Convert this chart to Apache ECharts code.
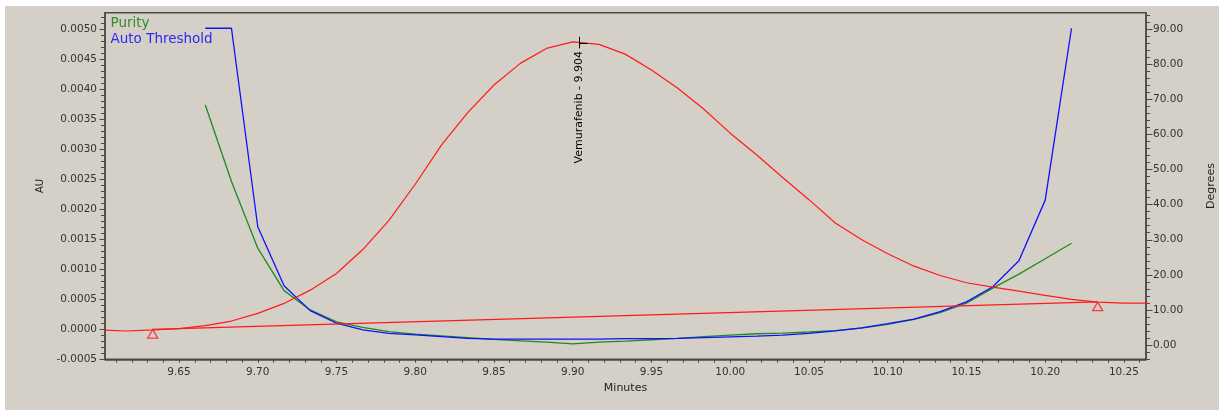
<!DOCTYPE html>
<html>
<head>
<meta charset="utf-8">
<script src="https://cdn.jsdelivr.net/npm/echarts@6/dist/echarts.min.js"></script>
<style>
  html, body { margin: 0; padding: 0; background: #ffffff; }
  #chart { position: absolute; left: 5px; top: 6px; width: 1214px; height: 404px; }
</style>
</head>
<body>
<div id="chart"></div>
<script>
// Chromatogram (AU) sampled once per second
const chromTimes = [
  9.6000, 9.6167, 9.6333, 9.6500, 9.6667, 9.6833, 9.7000, 9.7167, 9.7333, 9.7500,
  9.7667, 9.7833, 9.8000, 9.8167, 9.8333, 9.8500, 9.8667, 9.8833, 9.9000, 9.9167,
  9.9333, 9.9500, 9.9667, 9.9833, 10.0000, 10.0167, 10.0333, 10.0500, 10.0667, 10.0833,
  10.1000, 10.1167, 10.1333, 10.1500, 10.1667, 10.1833, 10.2000, 10.2167, 10.2333, 10.2500,
  10.2667
];
const chromAU = [
  -0.000010, -0.000028, -0.000010, 0.000013, 0.000062, 0.000138, 0.000266, 0.000432, 0.000653, 0.000931,
  0.001330, 0.001817, 0.002419, 0.003076, 0.003613, 0.004074, 0.004435, 0.004684, 0.004794, 0.004751,
  0.004589, 0.004323, 0.004019, 0.003670, 0.003271, 0.002910, 0.002532, 0.002162, 0.001774, 0.001497,
  0.001259, 0.001053, 0.000898, 0.000777, 0.000703, 0.000637, 0.000565, 0.000499, 0.000454, 0.000437,
  0.000437
];

// Purity angle and threshold (degrees)
const purityTimes = [
  9.6667, 9.6833, 9.7000, 9.7167, 9.7333, 9.7500, 9.7667, 9.7833, 9.8000, 9.8167,
  9.8333, 9.8500, 9.8667, 9.8833, 9.9000, 9.9167, 9.9333, 9.9500, 9.9667, 9.9833,
  10.0000, 10.0167, 10.0333, 10.0500, 10.0667, 10.0833, 10.1000, 10.1167, 10.1333, 10.1500,
  10.1667, 10.1833, 10.2000, 10.2167
];
const purityAngle = [
  68.4, 46.6, 27.6, 15.5, 10.0, 6.6, 5.0, 3.8, 3.1, 2.6,
  2.1, 1.6, 1.2, 0.8, 0.3, 0.8, 1.1, 1.5, 1.9, 2.4,
  2.8, 3.2, 3.4, 3.7, 4.1, 4.8, 5.9, 7.3, 9.2, 11.9,
  16.2, 20.2, 24.6, 29.0
];
const thresholdAngle = [
  90.3, 90.3, 33.7, 16.9, 9.8, 6.2, 4.3, 3.3, 2.9, 2.4,
  1.9, 1.7, 1.7, 1.7, 1.7, 1.7, 1.8, 1.8, 1.9, 2.1,
  2.3, 2.5, 2.8, 3.3, 4.0, 4.85, 6.1, 7.4, 9.5, 12.3,
  16.6, 24.0, 41.3, 90.3
];

// Integration baseline (peak start / end)
const baselineTimes = [9.6333, 10.2333];
const baselineAU = [0.0000, 0.000456];

// Peak apex label
const peakName = 'Vemurafenib';
const peakRT = 9.904;
const apexTickTop = 0.00488;
const apexTickBottom = 0.004684;

// Axis ticks
const auTicks = [-0.0005, 0.0000, 0.0005, 0.0010, 0.0015, 0.0020, 0.0025, 0.0030, 0.0035, 0.0040, 0.0045, 0.0050];
const degTicks = [0, 10, 20, 30, 40, 50, 60, 70, 80, 90];
const minuteTicks = [9.65, 9.70, 9.75, 9.80, 9.85, 9.90, 9.95, 10.00, 10.05, 10.10, 10.15, 10.20, 10.25];

function steps(from, to, step, digits) {
  const out = [];
  const n = Math.round((to - from) / step);
  for (let i = 0; i <= n; i++) out.push(+(from + i * step).toFixed(digits));
  return out;
}
const auMinorTicks = steps(-0.0005, 0.0052, 0.0001, 4);
const degMinorTicks = steps(-4, 94, 2, 0);
const minuteMinorTicks = steps(9.61, 10.26, 0.01, 2);

const AU_MIN = -0.0005, AU_MAX = 0.00528;
const DEG_MIN = -4.08, DEG_MAX = 94.73;
const T_MIN = 9.603, T_MAX = 10.264;

const FONT = 'DejaVu Sans';
const AXIS_COLOR = '#4a4a4a';
const TEXT_COLOR = '#333333';
const RED = '#ff1a1a';
const GREEN = '#1f8a1f';
const BLUE = '#1010ff';

const zip = (xs, ys) => xs.map((x, i) => [x, ys[i]]);

const chart = echarts.init(document.getElementById('chart'), null, { renderer: 'canvas' });

const labelStyle = { fontFamily: FONT, fontSize: 10.5, color: TEXT_COLOR };

chart.setOption({
  animation: false,
  backgroundColor: '#d4d0c8',
  grid: {
    left: 100, top: 6.7, width: 1041, height: 346.6,
    show: true, borderColor: AXIS_COLOR, borderWidth: 1.5, backgroundColor: 'transparent',
    outerBoundsMode: 'none'
  },
  legend: {
    orient: 'vertical', left: 95.5, top: 5, itemGap: 2,
    icon: 'none', itemWidth: 0, itemHeight: 0, selectedMode: false,
    textStyle: { fontFamily: FONT, fontSize: 13.5 },
    data: [
      { name: 'Purity', textStyle: { color: '#2e8b2e' } },
      { name: 'Auto Threshold', textStyle: { color: '#2a2aee' } }
    ]
  },
  xAxis: [{
    type: 'value', min: T_MIN, max: T_MAX, position: 'bottom',
    name: 'Minutes', nameLocation: 'middle', nameGap: 22,
    nameTextStyle: { fontFamily: FONT, fontSize: 11, color: '#222' },
    axisLine: { onZero: false, lineStyle: { color: AXIS_COLOR, width: 1.5 } },
    axisTick: { customValues: minuteMinorTicks, length: 3.5, lineStyle: { color: AXIS_COLOR, width: 1 } },
    axisLabel: Object.assign({ customValues: minuteTicks, margin: 7, formatter: v => v.toFixed(2) }, labelStyle),
    splitLine: { show: false }
  }],
  yAxis: [{
    type: 'value', min: AU_MIN, max: AU_MAX, position: 'left',
    name: 'AU', nameLocation: 'middle', nameGap: 60, nameRotate: 90,
    nameTextStyle: { fontFamily: FONT, fontSize: 10, color: '#222' },
    axisLine: { show: true, onZero: false, lineStyle: { color: AXIS_COLOR, width: 1.5 } },
    axisTick: { customValues: auTicks, length: 5.5, lineStyle: { color: AXIS_COLOR, width: 1 } },
    axisLabel: Object.assign({ customValues: auTicks, margin: 8, formatter: v => v.toFixed(4) }, labelStyle),
    splitLine: { show: false }
  }, {
    type: 'value', min: DEG_MIN, max: DEG_MAX, position: 'right',
    name: 'Degrees', nameLocation: 'middle', nameGap: 60, nameRotate: 90,
    nameTextStyle: { fontFamily: FONT, fontSize: 11, color: '#222' },
    axisLine: { show: true, onZero: false, lineStyle: { color: AXIS_COLOR, width: 1.5 } },
    axisTick: { customValues: degTicks, length: 6.5, lineStyle: { color: AXIS_COLOR, width: 1 } },
    axisLabel: Object.assign({ customValues: degTicks, margin: 7, formatter: v => v.toFixed(2) }, labelStyle),
    splitLine: { show: false }
  }, {
    // minor ticks, AU axis
    type: 'value', min: AU_MIN, max: AU_MAX, position: 'left',
    axisLine: { show: false, onZero: false },
    axisTick: { show: true, customValues: auMinorTicks, length: 4, lineStyle: { color: AXIS_COLOR, width: 1 } },
    axisLabel: { show: false },
    splitLine: { show: false }
  }, {
    // minor ticks, degrees axis
    type: 'value', min: DEG_MIN, max: DEG_MAX, position: 'right',
    axisLine: { show: false, onZero: false },
    axisTick: { show: true, customValues: degMinorTicks, length: 4, lineStyle: { color: AXIS_COLOR, width: 1 } },
    axisLabel: { show: false },
    splitLine: { show: false }
  }],
  series: [{
    name: 'Purity', type: 'line', xAxisIndex: 0, yAxisIndex: 1,
    data: zip(purityTimes, purityAngle), showSymbol: false, symbol: 'none',
    lineStyle: { color: GREEN, width: 1.3 }, itemStyle: { color: GREEN }
  }, {
    name: 'Auto Threshold', type: 'line', xAxisIndex: 0, yAxisIndex: 1,
    data: zip(purityTimes, thresholdAngle), showSymbol: false, symbol: 'none',
    lineStyle: { color: BLUE, width: 1.3 }, itemStyle: { color: BLUE }
  }, {
    name: 'Baseline', type: 'line', xAxisIndex: 0, yAxisIndex: 0,
    data: zip(baselineTimes, baselineAU), showSymbol: false, symbol: 'none',
    lineStyle: { color: RED, width: 1.3 }
  }, {
    name: 'Chromatogram', type: 'line', xAxisIndex: 0, yAxisIndex: 0,
    data: zip(chromTimes, chromAU), showSymbol: false, symbol: 'none',
    lineStyle: { color: RED, width: 1.2 }
  }, {
    name: 'Peak markers', type: 'scatter', xAxisIndex: 0, yAxisIndex: 0,
    data: zip(baselineTimes, baselineAU),
    symbol: 'triangle', symbolSize: [10, 8.5], symbolOffset: [0, 4.5],
    itemStyle: { color: 'rgba(0,0,0,0)', borderColor: RED, borderWidth: 1.3 },
    silent: true, z: 4
  }, {
    name: 'Apex', type: 'custom', xAxisIndex: 0, yAxisIndex: 0, silent: true, z: 5,
    data: [[peakRT, apexTickTop, apexTickBottom]],
    renderItem: function (params, api) {
      const top = api.coord([api.value(0), api.value(1)]);
      const bot = api.coord([api.value(0), api.value(2)]);
      const x = Math.round(top[0]) + 0.5;
      const mid = Math.round((top[1] + bot[1]) / 2) + 0.5;
      return {
        type: 'group',
        children: [
          { type: 'line', shape: { x1: x, y1: top[1], x2: x, y2: bot[1] }, style: { stroke: '#000', lineWidth: 1 } },
          { type: 'line', shape: { x1: x, y1: mid, x2: x + 8, y2: mid }, style: { stroke: '#000', lineWidth: 1 } },
          {
            type: 'text', x: x, y: bot[1] + 2.5, rotation: Math.PI / 2,
            style: {
              text: peakName + ' - ' + api.value(0).toFixed(3),
              align: 'right', verticalAlign: 'middle',
              font: '11px "' + FONT + '"', fill: '#000'
            }
          }
        ]
      };
    }
  }]
});
</script>
</body>
</html>
